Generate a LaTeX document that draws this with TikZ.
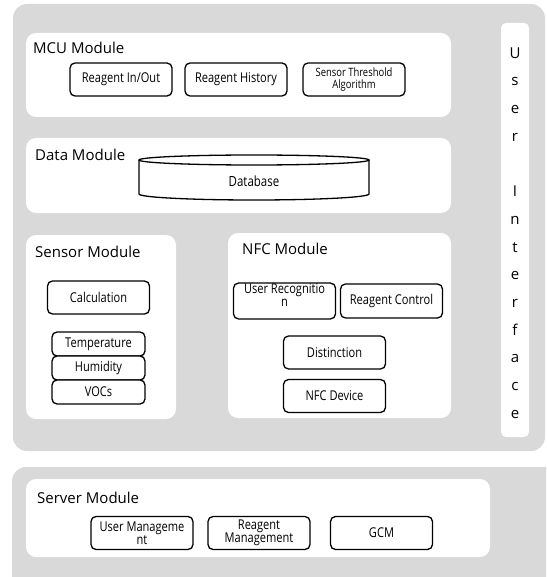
\documentclass[tikz,border=0pt]{standalone}
\usepackage{fontspec}
\setmainfont{Open Sans}
\newfontfamily\boxfont[FakeStretch=0.82]{Open Sans}
\definecolor{panelgray}{HTML}{D9D9D9}
\begin{document}
\begin{tikzpicture}[x=1pt,y=-1pt,
  panel/.style={fill=panelgray, draw=none, rounded corners=14pt},
  module/.style={fill=white, draw=none, rounded corners=10pt},
  item/.style={draw=black, line width=1.3pt, rounded corners=5pt, fill=white,
    minimum width=102pt, minimum height=33pt, align=center, inner sep=1pt,
    font=\boxfont\fontsize{13.5}{13}\selectfont},
  smallitem/.style={item, font=\boxfont\fontsize{11.5}{12}\selectfont},
  mlabel/.style={anchor=west, inner sep=0pt, font=\fontsize{15}{18}\selectfont}]
\useasboundingbox (0,0) rectangle (546,577);
\clip (0,0) rectangle (546,577);
% panels
\fill[panel] (13,4) rectangle (545,451);
\fill[panel] (12,467) rectangle (560,600);
% modules
\fill[module] (26,33) rectangle (451,117);
\fill[module] (26,138) rectangle (451,213);
\fill[module] (26,235) rectangle (176,419);
\fill[module] (228,233) rectangle (451,418);
\fill[module, rounded corners=5pt] (501,23) rectangle (529,437);
\fill[module] (26,479) rectangle (490,557);
% labels
\node[mlabel] (mcu) at (33,48) {MCU Module};
\node[mlabel] (data) at (35,155) {Data Module};
\node[mlabel] (sensor) at (35,252) {Sensor Module};
\node[mlabel] (nfc) at (242,249) {NFC Module};
\node[mlabel] (server) at (37,498) {Server Module};
\node[align=center, inner sep=0pt, font=\fontsize{15}{27.7}\selectfont] (ui) at (515,233)
  {U\\s\\e\\r\\[27.7pt]I\\n\\t\\e\\r\\f\\a\\c\\e};
% MCU items
\node[item] (inout) at (121,79.5) {Reagent In/Out};
\node[item] (hist) at (236,79.5) {Reagent History};
\node[smallitem] (thr) at (354,79.5) {Sensor Threshold\\Algorithm};
% Database
\draw[line width=1.3pt] (139,160) -- (139,194)
  arc[start angle=180, end angle=360, x radius=115pt, y radius=6pt] -- (369,160);
\draw[line width=1.3pt] (254,160) ellipse [x radius=115pt, y radius=5pt];
\node[font=\boxfont\fontsize{14}{14}\selectfont] (db) at (254,181) {Database};
% Sensor items
\node[item] (calc) at (98.5,297.5) {Calculation};
\node[item, minimum width=93pt, minimum height=24pt] (temp) at (98.5,344) {Temperature};
\node[item, minimum width=93pt, minimum height=24pt] (hum) at (98.5,368) {Humidity};
\node[item, minimum width=93pt, minimum height=24pt] (voc) at (98.5,392) {VOCs};
% NFC items
\node[item, minimum height=34pt] (urec) at (284.5,301) {User Recognitio\\n\\[-2pt]};
\node[item, minimum height=34pt] (rctl) at (391.5,301) {Reagent Control};
\node[item] (dist) at (334.5,352.5) {Distinction};
\node[item] (dev) at (334.5,396) {NFC Device};
% Server items
\node[item] (umg) at (142,533) {User Manageme\\nt};
\node[item] (rmg) at (259,533) {Reagent\\Management};
\node[item] (gcm) at (381.5,533) {GCM};
\end{tikzpicture}
\end{document}
